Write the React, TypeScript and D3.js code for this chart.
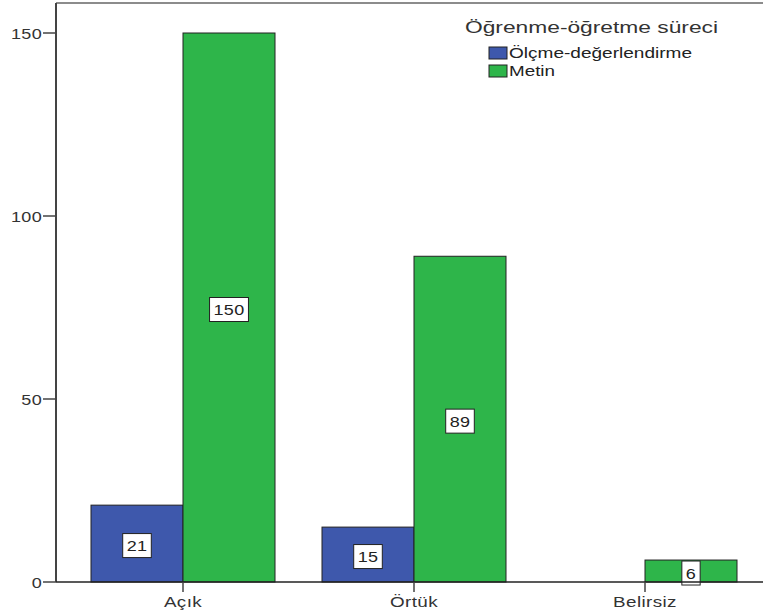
import React from "react";
import * as d3 from "d3";

// Counts per category for each learning-process series
const categories = ["Açık", "Örtük", "Belirsiz"];
const seriesNames = ["Ölçme-değerlendirme", "Metin"];
const olcmeValues = [21, 15, 0];
const metinValues = [150, 89, 6];
const yTicks = [0, 50, 100, 150];
const legendTitle = "Öğrenme-öğretme süreci";

const colors = ["#3E58AC", "#2EB54A"];
const W = 763;
const H = 614;
const FONT = "'Liberation Sans', Arial, Helvetica, sans-serif";

// Text drawn with a horizontal stretch (wide SPSS-like glyphs)
function WideText({
  x,
  y,
  sx,
  anchor,
  size,
  fill = "#333",
  children,
}: {
  x: number;
  y: number;
  sx: number;
  anchor: "start" | "middle" | "end";
  size: number;
  fill?: string;
  children: React.ReactNode;
}) {
  return (
    <text
      transform={`translate(${x},${y}) scale(${sx},1)`}
      textAnchor={anchor}
      fontSize={size}
      fill={fill}
      letterSpacing={0.3}
    >
      {children}
    </text>
  );
}

export default function App() {
  const left = 56;
  const top = 3;
  const bottom = 582;

  const y = d3.scaleLinear().domain([0, 150]).range([bottom, 33]);
  const x0 = d3
    .scaleBand<string>()
    .domain(categories)
    .range([67.5, 760.5])
    .paddingInner(47 / 231)
    .paddingOuter(47 / 462);
  const x1 = d3
    .scaleBand<string>()
    .domain(seriesNames)
    .range([0, x0.bandwidth()]);

  const seriesValues = [olcmeValues, metinValues];

  const bars: { key: string; x: number; w: number; y0: number; y1: number; v: number; color: string }[] = [];
  categories.forEach((c, ci) => {
    seriesNames.forEach((s, si) => {
      const v = seriesValues[si][ci];
      if (v <= 0) return;
      bars.push({
        key: `${c}-${s}`,
        x: (x0(c) ?? 0) + (x1(s) ?? 0),
        w: x1.bandwidth(),
        y0: y(0),
        y1: y(v),
        v,
        color: colors[si],
      });
    });
  });

  return (
    <svg
      width={W}
      height={H}
      style={{ position: "absolute", left: 0, top: 0, background: "#fff" }}
      fontFamily={FONT}
    >
      <rect x={0} y={0} width={W} height={H} fill="#fff" />
      {/* plot frame */}
      <line x1={left} x2={W + 5} y1={top} y2={top} stroke="#666" strokeWidth={1.5} />

      {/* bars */}
      {bars.map((b) => (
        <rect
          key={b.key}
          x={b.x}
          y={b.y1}
          width={b.w}
          height={b.y0 - b.y1}
          fill={b.color}
          stroke="#222"
          strokeWidth={1}
        />
      ))}

      {/* value labels */}
      {bars.map((b) => {
        const txt = String(b.v);
        const bw = txt.length * 10.3 + 8;
        const cx = b.x + b.w / 2;
        const cy = (b.y0 + b.y1) / 2 + 2;
        return (
          <g key={`lab-${b.key}`}>
            <rect
              x={cx - bw / 2}
              y={cy - 12}
              width={bw}
              height={24}
              fill="#fff"
              stroke="#222"
              strokeWidth={1}
            />
            <WideText x={cx} y={cy + 5.5} sx={1.2} anchor="middle" size={15} fill="#222">
              {txt}
            </WideText>
          </g>
        );
      })}

      {/* y axis */}
      <line x1={left} x2={left} y1={top} y2={bottom} stroke="#444" strokeWidth={2} />
      {yTicks.map((t) => (
        <g key={`yt-${t}`}>
          <line x1={43} x2={left} y1={y(t)} y2={y(t)} stroke="#444" strokeWidth={1.5} />
          <WideText x={42} y={y(t) + 5.5} sx={1.2} anchor="end" size={15}>
            {t}
          </WideText>
        </g>
      ))}

      {/* x axis */}
      <line x1={left} x2={W + 5} y1={bottom} y2={bottom} stroke="#222" strokeWidth={1.5} />
      {categories.map((c) => {
        const cx = (x0(c) ?? 0) + x0.bandwidth() / 2;
        return (
          <g key={`xt-${c}`}>
            <line x1={cx} x2={cx} y1={bottom} y2={592} stroke="#444" strokeWidth={1.5} />
            <WideText x={cx} y={607} sx={1.3} anchor="middle" size={14.5}>
              {c}
            </WideText>
          </g>
        );
      })}

      {/* legend */}
      <text
        x={465}
        y={33}
        fontSize={16}
        textLength={253}
        lengthAdjust="spacingAndGlyphs"
        fill="#333"
      >
        {legendTitle}
      </text>
      {seriesNames.map((s, i) => (
        <g key={`lg-${s}`} transform={`translate(489, ${47 + i * 18})`}>
          <rect x={0} y={0} width={18} height={12} fill={colors[i]} stroke="#222" strokeWidth={1} />
          <text
            x={20}
            y={11}
            fontSize={14}
            textLength={i === 0 ? 183 : 46}
            lengthAdjust="spacingAndGlyphs"
            fill="#222"
          >
            {s}
          </text>
        </g>
      ))}
    </svg>
  );
}
